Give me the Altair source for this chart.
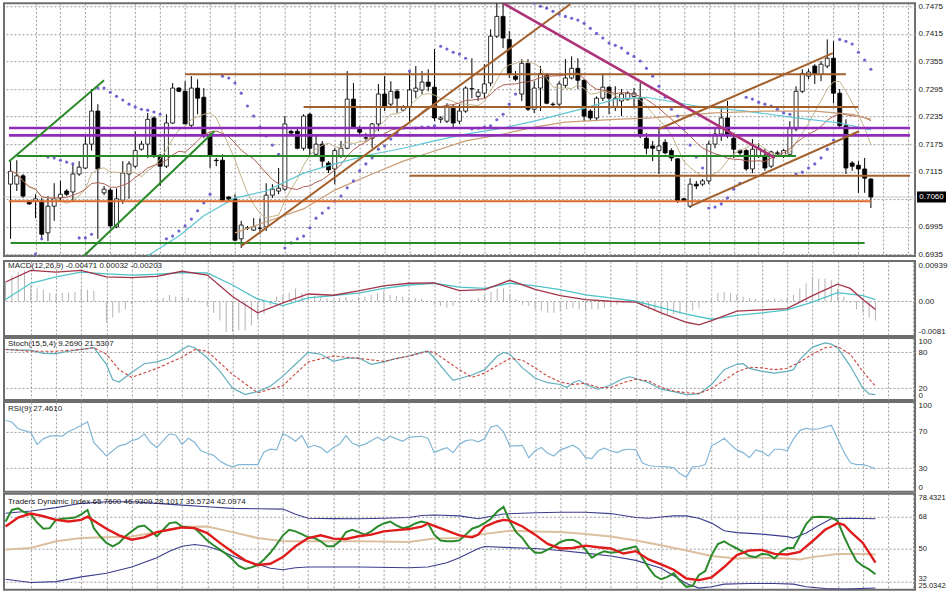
import altair as alt
import pandas as pd

# ---------------- price candles (in pips, 1e-4) ----------------
open_pips = [7088,7088,7106,7051,7051,7051,6982,7040,7058,7073,
             7071,7110,7123,7175,7247,7069,7075,6995,7053,7110,
             7127,7164,7175,7232,7151,7127,7221,7297,7290,7216,
             7297,7277,7193,7140,7140,7060,7056,6969,6992,6988,
             6992,6995,7064,7073,7077,7203,7203,7166,7240,7153,
             7175,7134,7121,7149,7166,7273,7210,7188,7188,7219,
             7284,7262,7290,7249,7256,7290,7293,7310,7299,7229,
             7225,7253,7225,7247,7295,7279,7286,7308,7410,7453,
             7403,7323,7284,7351,7251,7297,7327,7262,7262,7303,
             7319,7340,7314,7247,7232,7275,7299,7256,7269,7273,
             7279,7275,7188,7171,7161,7179,7161,7143,7056,7040,
             7088,7088,7095,7175,7197,7232,7188,7161,7161,7121,
             7149,7151,7127,7156,7149,7153,7208,7290,7323,7345,
             7327,7345,7362,7286,7215,7134,7129,7121,7099]
high_pips = [7138,7140,7110,7053,7066,7058,7062,7090,7095,7077,
             7134,7138,7197,7295,7262,7084,7079,7079,7138,7138,
             7203,7182,7243,7236,7153,7240,7308,7299,7312,7323,
             7316,7297,7199,7145,7153,7062,7066,7008,6997,7014,
             7014,7090,7088,7123,7236,7206,7208,7240,7243,7197,
             7182,7138,7166,7182,7334,7308,7215,7199,7221,7306,
             7323,7312,7295,7260,7334,7345,7334,7338,7382,7236,
             7264,7262,7262,7301,7362,7295,7349,7425,7486,7486,
             7421,7334,7360,7360,7312,7345,7329,7266,7312,7360,
             7366,7362,7316,7251,7279,7329,7301,7301,7295,7290,
             7297,7308,7199,7182,7208,7186,7166,7145,7058,7101,
             7095,7099,7182,7210,7251,7269,7197,7164,7164,7186,
             7177,7166,7161,7161,7164,7225,7301,7338,7338,7349,
             7356,7403,7399,7295,7229,7138,7138,7145,7101]
low_pips = [6969,7073,7058,7043,7014,6969,6964,7008,7051,7062,
            7051,7106,7121,7161,6969,7064,6992,6992,7045,7056,
            7123,7161,7145,7145,7084,7123,7219,7288,7219,7212,
            7240,7188,7123,7127,7051,7051,6964,6949,6988,6986,
            6979,6986,7058,7066,7073,7197,7164,7161,7149,7149,
            7123,7112,7088,7145,7164,7208,7197,7182,7166,7203,
            7247,7253,7243,7247,7225,7275,7284,7290,7225,7221,
            7221,7210,7219,7243,7275,7269,7275,7301,7406,7384,
            7319,7312,7269,7247,7243,7247,7262,7258,7253,7297,
            7316,7295,7225,7227,7225,7269,7240,7247,7236,7269,
            7253,7188,7153,7138,7110,7153,7138,7047,7049,7036,
            7077,7084,7088,7166,7182,7188,7145,7149,7117,7112,
            7145,7117,7123,7151,7145,7149,7203,7286,7316,7306,
            7312,7340,7264,7210,7110,7117,7069,7069,7036]
close_pips = [7116,7106,7062,7045,7056,6979,7040,7056,7066,7066,
              7110,7125,7175,7247,7121,7077,6997,7056,7112,7132,
              7161,7175,7229,7149,7127,7221,7297,7290,7219,7297,
              7275,7193,7149,7139,7053,7056,6966,6999,6993,6995,
              6992,7064,7077,7079,7219,7199,7166,7236,7166,7175,
              7138,7119,7161,7166,7273,7210,7201,7189,7219,7284,
              7258,7290,7275,7256,7293,7297,7310,7301,7232,7232,
              7258,7221,7247,7297,7296,7288,7306,7410,7453,7406,
              7327,7316,7351,7251,7297,7329,7264,7261,7306,7319,
              7340,7314,7236,7232,7275,7299,7275,7275,7284,7286,
              7286,7193,7166,7166,7171,7156,7145,7051,7051,7088,
              7084,7095,7175,7197,7232,7193,7164,7156,7121,7164,
              7166,7123,7158,7155,7161,7210,7290,7329,7332,7327,
              7349,7362,7286,7215,7123,7127,7121,7101,7060]

# slow moving averages (candle index, pips)
ma_cyan_i = [22, 27, 31, 36, 41, 47, 52, 58, 63, 68, 73, 79, 84, 92, 97, 102, 110, 118, 126, 133, 138]
ma_cyan_p = [6932, 6975, 7019, 7058, 7073, 7112, 7132, 7153, 7166, 7182, 7197, 7210, 7225, 7253, 7273, 7277, 7258, 7247, 7232, 7221, 7206]
ma_tan_i = [36, 41, 47, 52, 58, 63, 68, 73, 79, 84, 89, 97, 103, 113, 121, 129, 135, 138]
ma_tan_p = [6982, 7006, 7034, 7075, 7110, 7138, 7160, 7182, 7197, 7212, 7223, 7229, 7232, 7243, 7247, 7247, 7240, 7229]

# parabolic SAR dots
sar_i = [4,5,6,7,8,9,10,11,12,13,14,15,16,17,18,19,20,21,22,23,24,25,26,27,28,29,30,31,32,
         34,35,36,37,38,39,40,41,42,43,44,45,46,47,48,49,50,51,52,53,54,55,56,57,58,59,60,61,62,63,
         64,65,66,67,68,69,70,71,72,73,74,75,76,77,78,79,80,81,82,83,84,85,86,87,88,89,90,91,92,93,
         94,95,96,97,98,99,100,101,102,103,104,105,106,107,108,109,110,111,112,113,114,115,116,117,
         118,119,120,121,122,123,124,125,126,127,128,129,130,131,132,133,134,135,136,137,138]
sar_p = [6936,6969,7147,7145,7140,7136,7132,6971,6971,6979,7297,7297,7288,7279,7271,7262,7256,7251,7249,7245,7240,
         6969,6975,6986,6997,7012,7030,7047,7066,
         7323,7319,7308,7286,7258,7236,7212,7193,7173,7153,6949,6960,6969,6975,6993,7014,7025,7036,7051,7062,
         7080,7095,7117,7132,7145,7164,7171,7186,7199,7210,7334,7210,7212,7212,7215,7388,7382,7375,7371,7362,
         7208,7210,7212,7215,7228,7240,7262,7284,7486,7486,7482,7475,7471,7464,7458,7453,7449,7445,7438,7427,
         7416,7406,7395,7390,7384,7373,7366,7356,7340,7323,7301,7277,7251,7236,7208,7173,7147,7123,7036,7038,
         7045,7058,7077,7090,7277,7273,7266,7262,7258,7251,7243,7240,7110,7114,7123,7132,7145,7164,7184,7403,
         7399,7393,7375,7358,7338]

# horizontal levels: price, from index, to index, colour, width
lvl_price = [0.7327, 0.7256, 0.7210, 0.7194, 0.7149, 0.7106, 0.7051, 0.6960]
lvl_from = [28, 47, -0.25, -0.25, 1, 64, -0.25, 0]
lvl_to = [134, 136, 144.28, 144.28, 126, 144.28, 138, 137]
lvl_color = ["#a3612e", "#a3612e", "#8e2bb8", "#8e2bb8", "#2a8a2a", "#a3612e", "#df6a2a", "#2a8a2a"]
lvl_width = [2, 2, 2.6, 2.6, 2, 2, 2, 2]

# trend lines
tl_i0 = [-0.25, 11.8, 37, 79, 104, 109.1]
tl_p0 = [0.7137, 0.6932, 0.6953, 0.7482, 0.7208, 0.7040]
tl_i1 = [15, 32.7, 89.8, 122.6, 131.9, 136.1]
tl_p1 = [0.7314, 0.7203, 0.7480, 0.7145, 0.7373, 0.7203]
tl_color = ["#2a8a2a", "#2a8a2a", "#a3612e", "#ad3279", "#a3612e", "#a3612e"]
tl_width = [2, 2, 2, 2.6, 2, 2]

# ---------------- MACD ----------------
macd_i = [0,4,8,12,16,20,24,28,32,36,40,44,48,52,56,60,64,68,72,76,80,84,88,92,96,100,104,108,110,112,116,120,124,128,132,134,136,138]
macd_main = [0.0045,0.0072,0.0068,0.0072,0.0057,0.0055,0.0058,0.0070,0.0061,0.0011,-0.0027,-0.0004,0.0017,0.0014,0.0024,0.0036,0.0042,0.0043,0.0025,0.0027,0.0049,0.0028,0.0013,0.0004,0.0000,-0.0002,-0.0027,-0.0049,-0.0055,-0.0045,-0.0023,-0.0020,-0.0017,0.0013,0.0040,0.0030,0.0004,-0.0019]
macd_sig_i = list(range(0, 137, 4)) + [138]
macd_sig = [0.0004,0.0042,0.0057,0.0068,0.0064,0.0061,0.0063,0.0067,0.0066,0.0038,0.0005,-0.0010,0.0008,0.0013,0.0019,0.0030,0.0038,0.0042,0.0033,0.0030,0.0042,0.0036,0.0027,0.0015,0.0008,0.0000,-0.0015,-0.0030,-0.0042,-0.0033,-0.0027,-0.0020,-0.0002,0.0020,0.0013,0.0004]
macd_hist = [0.0045,0.0060,0.0068,0.0072,0.0038,0.0030,0.0027,0.0019,0.0017,0.0019,
             0.0020,0.0022,0.0030,0.0027,0.0024,0.0000,-0.0049,-0.0038,-0.0027,-0.0019,
             -0.0007,0.0000,-0.0003,0.0002,0.0004,0.0008,0.0015,0.0011,0.0011,0.0008,
             0.0003,-0.0003,-0.0011,-0.0027,-0.0045,-0.0072,-0.0072,-0.0068,-0.0068,-0.0057,
             -0.0042,-0.0030,-0.0010,0.0011,0.0015,0.0020,0.0030,0.0019,0.0015,0.0012,
             0.0010,0.0006,0.0004,0.0008,0.0010,0.0004,0.0008,0.0011,0.0015,0.0019,
             0.0022,0.0015,0.0012,0.0011,0.0008,0.0008,0.0006,0.0000,-0.0008,-0.0011,
             -0.0015,-0.0011,-0.0004,0.0000,0.0004,0.0008,0.0015,0.0022,0.0030,0.0030,
             0.0015,0.0004,-0.0008,-0.0011,-0.0019,-0.0022,-0.0027,-0.0027,-0.0022,-0.0019,
             -0.0015,-0.0019,-0.0022,-0.0019,-0.0019,-0.0015,-0.0011,-0.0008,-0.0004,-0.0003,
             0.0000,-0.0011,-0.0019,-0.0022,-0.0027,-0.0030,-0.0030,-0.0030,-0.0027,-0.0022,
             -0.0015,-0.0004,0.0008,0.0019,0.0022,0.0019,0.0015,0.0011,0.0008,0.0006,
             0.0004,0.0004,0.0006,0.0004,0.0008,0.0015,0.0030,0.0042,0.0057,0.0053,
             0.0053,0.0049,0.0030,0.0011,-0.0004,-0.0019,-0.0027,-0.0038,-0.0045]

# ---------------- Stochastic ----------------
stoch_i = [0,2,4,6,8,10,12,14,16,17,18,20,22,24,26,28,29,30,32,34,36,38,40,42,44,46,48,50,52,54,56,58,60,62,64,66,67,68,70,71,72,74,76,78,79,80,82,84,86,88,89,90,91,92,94,96,98,99,100,102,104,106,108,110,112,114,116,117,118,120,122,124,125,126,128,130,131,132,134,136,137,138]
stoch_main = [85,84,84,78.5,78,82,85,88,60,34,30,46,61,64,71,85,91,88,71,48.5,20,9,14,23,40,60,80,77,65,70,71,60,64,70,74,80,82,71,45,33,36,42,51,74,80,77,54,37,29,26,21,29,33,26,18,25,36,39,36,29,18,14,9,10,26,51,60,61,53,48,45,48,51,68,89,96,94,88,57,20,10,9]
stoch_sig_i = [0,4,8,12,14,16,18,20,24,28,30,32,36,40,44,48,52,56,60,64,67,68,72,74,76,78,80,82,84,86,88,90,92,94,96,98,100,102,104,106,108,110,112,114,116,118,120,122,124,126,128,130,132,134,136,138]
stoch_sig = [85,82,82,85,88,77,51,38,53,72,85,82,43,12,24,64,74,70,65,74,82,80,51,38,45,58,70,67,54,40,30,26,28,21,21,29,35,32,21,15,12,11,19,33,47,55,54,51,53,64,77,88,90,77,48,23]

# ---------------- RSI ----------------
rsi_vals = [82,80.3,73,71,69,56,62,65,65.6,65,
            70,73,76.7,80.4,58,50.7,43.3,49,54.4,56,
            60,62,67.5,58,52.5,60,67.5,66,56,62.6,
            58,49,46.3,44,37.8,34,31.5,34,34,34,
            34,47.7,50.7,50,67.5,64.2,59.4,65.6,52.5,55,
            52.5,47,52.5,56,65.6,57.4,54.4,56,60,63.7,
            60,64.8,62,59.3,63.7,64.4,64.8,62.6,47,50,
            52.5,47,56,60,61,58.8,62,75,76.7,69.3,
            54.4,54.4,55,41.5,49,52.5,46.3,43.3,50,52.5,
            55,50.7,41.5,40.4,49,51.8,49,47,50,50.7,
            50,35.9,33,32.2,31.9,31.5,30.4,24.1,20.4,31.5,
            32.2,34,54.4,58,62.6,56,50,47,41.5,50,
            47.8,43.3,50.7,50.7,49,62,71,73.7,72.2,73,
            74.8,76.7,62,47.8,35.9,34,34,32.2,29.3]

# ---------------- Traders Dynamic Index ----------------
tdi_green = [65.2,71.6,72.5,70.3,69.2,64.6,61.2,61.5,66.1,66.7,
             67,67.4,69.2,71.6,61.5,57,53.3,51.4,53.3,57,
             59.7,62.3,63,60.1,57,60.6,64.3,64.8,62.4,61.9,
             61.5,58.2,54.6,52,49.6,47.2,44.1,40.5,38.8,39.7,
             41,44.1,47.8,52.4,57.5,60.6,59.7,58.2,56.4,56,
             54.2,51.4,51.4,54.2,59.3,60.6,59.3,57.9,59.7,62.3,
             64.1,65.2,63,61.5,62.3,64.1,65.2,64.3,57.9,54.6,
             54.2,54.2,54.7,57.9,61.2,62.4,64.3,66.7,70.7,73.4,
             65.2,59.3,56,51.1,47.8,47.8,49.6,51.4,53.8,54.9,
             55.1,53.3,49.6,45.1,47.2,48.7,47.8,48.3,49.6,50.5,
             51.4,45.1,39.6,35,33.1,34.4,36.4,32.2,28.9,29.5,
             35.5,37.7,46.5,52.7,54.2,52,50.2,48.3,46,45.4,
             47.2,46.9,44.7,48.3,50.5,50.5,57,63.7,67.6,67.9,
             67.7,67.4,65.6,57,49.6,43.2,40.5,38.6,35.9]
tdi_red_i = [0,2,4,6,8,10,12,13,14,16,18,20,22,24,26,28,30,32,34,36,38,40,42,44,46,48,50,52,54,56,58,60,62,64,66,67,68,70,72,74,75,76,78,79,80,82,84,86,88,90,92,94,96,98,100,102,104,106,108,110,112,114,116,118,120,122,124,126,128,130,131,132,133,134,136,138]
tdi_red = [62.4,67.4,69.6,68.1,66.1,65.2,66.1,67.9,65.6,61.2,57.5,55.1,56.4,59.3,60.6,61.9,61.5,58.8,53.3,48.3,43.6,41,41.7,45.4,51.4,56,57.5,55.7,55.5,57,57.9,59.7,60.4,61,62.3,64.1,62.8,60.1,57.5,56.4,57.9,62.3,65.2,66.1,65.7,62.4,57.9,52.7,50.2,50.5,51.8,50.9,50.2,47.4,48.7,44.1,41.4,38.4,33.5,32.6,34.1,39.9,46.5,49.1,49.4,47.2,46.9,48.3,54.2,60.6,62.4,64.3,63.4,59.7,53.3,42.3]
tdi_base_i = [0,4,8,12,16,20,24,28,32,36,40,44,48,56,64,68,72,75,80,84,88,92,96,100,104,108,112,116,120,124,126,128,132,136,138]
tdi_base = [49.6,50.5,54.2,56,56.4,56.9,59.3,62.3,62.4,59.3,56,54.2,54.2,54.2,53.8,55.7,56,57.9,60.1,59.7,59.3,58.2,56.8,54.6,52,49.1,46,44.7,45.1,44.7,44.1,45.4,47.2,47.2,46.9]
tdi_up_i = [0,4,8,12,16,20,24,28,32,36,40,44,46,48,52,56,60,64,66,68,72,75,76,79,84,88,92,96,100,102,104,106,108,110,112,114,116,120,124,125,127,129,131,134,138]
tdi_up = [69.8,71,72.9,75.3,76.2,76.2,75.3,74.3,73.4,72.5,72.3,72.1,69.2,67,66.8,66.7,67,67.4,68.5,68.8,68.3,66.7,67.4,69.4,70.1,70.3,70.3,69.6,67.4,67,67.7,68.3,68.3,67,64.3,60.1,59,58.2,56.8,56,58.8,63,66.7,67,66.7]
tdi_lo_i = [0,4,8,12,16,20,24,26,28,30,32,34,36,38,40,42,44,46,48,56,64,67,70,72,75,76,80,84,88,92,96,100,104,106,108,110,112,114,118,122,125,127,130,133,138]
tdi_lo = [33.1,31.3,31.8,34.4,36.4,39.9,45.1,48.7,51.4,52.4,51.4,49.1,46,43.2,41.4,39.2,38.4,39.5,39.9,39.9,39.5,39.9,42.3,45.1,50.2,51.3,50.7,50.2,49.1,47.6,46,43.6,39.2,35,30.7,28.2,28.9,30.4,30.7,30.7,30.4,28.9,28,27.6,28.2]

price_ticks = [0.7475, 0.7415, 0.7355, 0.7295, 0.7235, 0.7175, 0.7115, 0.7055, 0.6995, 0.6935]
last_price = [0.7060]
title_macd = "MACD(12,26,9) -0.00471 0.00032 -0.00203"
title_stoch = "Stoch(15,5,4) 9.2690 21.5307"
title_rsi = "RSI(9) 27.4610"
title_tdi = "Traders Dynamic Index 65.7600 46.9309 28.1017 35.5724 42.0974"

# ---------------- helpers ----------------
FONT = "Liberation Sans"
W = 912
XS = alt.Scale(domain=[-0.25, 144.28], nice=False, zero=False)
GRID = "#9c9c9c"
XAX = alt.Axis(values=list(range(4, 145, 4)), labels=False, ticks=False, domain=False,
               grid=True, gridDash=[2, 2], gridColor=GRID, gridWidth=1, title=None)


def xenc(field="i"):
    return alt.X(f"{field}:Q", scale=XS, axis=XAX, title=None)


def yaxis(values, label_expr, hide=None, size=8, nudge=None):
    kw = dict(orient="right", values=values, labelExpr=label_expr, grid=True, gridDash=[2, 2],
              gridColor=GRID, gridWidth=1, domain=False, ticks=False, labelFont=FONT,
              labelFontSize=size, labelColor="#1a1a1a", labelPadding=3, title=None,
              labelFlush=True, labelOverlap=False)
    if hide:
        kw["gridOpacity"] = {"condition": {"test": hide, "value": 0}, "value": 1}
    if nudge:
        kw["labelOffset"] = {"condition": {"test": nudge, "value": -3}, "value": 0}
    return alt.Axis(**kw)


class Panel:
    def __init__(self, scale, axis):
        self.scale = scale
        self.axis = axis

    def y(self, field):
        return alt.Y(f"{field}:Q", scale=self.scale, axis=self.axis, title=None)

    def line(self, ix, vals, color, width=1.0, dash=None):
        df = pd.DataFrame({"i": ix, "v": vals})
        kw = dict(color=color, strokeWidth=width, clip=True)
        if dash:
            kw["strokeDash"] = dash
        return alt.Chart(df).mark_line(**kw).encode(x=xenc(), y=self.y("v"))


def title_layer(text, ypx):
    return alt.Chart(pd.DataFrame({"t": [text]})).mark_text(
        align="left", baseline="middle", font=FONT, fontSize=8, color="#1a1a1a"
    ).encode(x=alt.value(4), y=alt.value(ypx), text="t:N")


N = len(close_pips)
idx = list(range(N))

# ---------------- main price panel ----------------
PM = Panel(alt.Scale(domain=[0.69315, 0.74815], nice=False, zero=False),
           yaxis(price_ticks,
                 "(datum.value > 0.705 && datum.value < 0.706) ? '' : format(datum.value, '.4f')"))
cdf = pd.DataFrame({
    "i": idx,
    "o": [v / 1e4 for v in open_pips],
    "h": [v / 1e4 for v in high_pips],
    "l": [v / 1e4 for v in low_pips],
    "c": [v / 1e4 for v in close_pips],
})

priceline = alt.Chart(pd.DataFrame({"p": last_price})).mark_rule(
    color="#c8c8c8", strokeWidth=1).encode(y=PM.y("p"))
wicks = alt.Chart(cdf).mark_rule(color="black", strokeWidth=1, clip=True).encode(
    x=xenc(), y=PM.y("l"), y2="h:Q")
bodies = alt.Chart(cdf).mark_bar(size=4, stroke="black", strokeWidth=0.8, clip=True).encode(
    x=xenc(), y=PM.y("o"), y2="c:Q",
    fill=alt.condition("datum.c >= datum.o", alt.value("white"), alt.value("black")))
ma_fast = alt.Chart(cdf).transform_window(
    ma="mean(c)", frame=[-7, 0], sort=[alt.SortField("i")]
).mark_line(color="#c2b38b", strokeWidth=1, clip=True).encode(x=xenc(), y=PM.y("ma"))
ma_med = alt.Chart(cdf).transform_window(
    ma="mean(c)", frame=[-14, 0], sort=[alt.SortField("i")]
).mark_line(color="#ad5f50", strokeWidth=1, clip=True).encode(x=xenc(), y=PM.y("ma"))
ma_cyan = PM.line(ma_cyan_i, [v / 1e4 for v in ma_cyan_p], "#5ec6d4", 1.2)
ma_tan = PM.line(ma_tan_i, [v / 1e4 for v in ma_tan_p], "#c99c74", 1.2)
sar = alt.Chart(pd.DataFrame({"i": sar_i, "p": [v / 1e4 for v in sar_p]})).mark_circle(
    size=10, color="#6d64cf", opacity=1, clip=True).encode(x=xenc(), y=PM.y("p"))
levels = alt.Chart(pd.DataFrame({"p": lvl_price, "a": lvl_from, "b": lvl_to,
                                 "col": lvl_color, "w": lvl_width})).mark_rule(clip=True).encode(
    x=xenc("a"), x2="b:Q", y=PM.y("p"),
    color=alt.Color("col:N", scale=None), strokeWidth=alt.StrokeWidth("w:Q", scale=None))
trends = alt.Chart(pd.DataFrame({"a": tl_i0, "pa": tl_p0, "b": tl_i1, "pb": tl_p1,
                                 "col": tl_color, "w": tl_width})).mark_rule(clip=True).encode(
    x=xenc("a"), x2="b:Q", y=PM.y("pa"), y2="pb:Q",
    color=alt.Color("col:N", scale=None), strokeWidth=alt.StrokeWidth("w:Q", scale=None))
box_df = pd.DataFrame({"p": last_price, "t": [f"{last_price[0]:.4f}"]})
pbox = alt.Chart(box_df).transform_calculate(
    lo="datum.p - 0.0012", hi="datum.p + 0.0012").mark_rect(color="black").encode(
    x=alt.value(914), x2=alt.value(943), y=PM.y("lo"), y2="hi:Q")
ptext = alt.Chart(box_df).mark_text(color="white", font=FONT, fontSize=8, align="center",
                                    baseline="middle").encode(
    x=alt.value(928.5), y=PM.y("p"), text="t:N")

main = alt.layer(priceline, wicks, bodies, ma_fast, ma_med, ma_cyan, ma_tan, sar,
                 levels, trends, pbox, ptext).properties(width=W, height=253)

# ---------------- MACD panel ----------------
PMACD = Panel(alt.Scale(domain=[-0.0081, 0.00939], nice=False, zero=False),
              yaxis([0.00939, 0.0, -0.0081],
                    "datum.value > 0.001 ? '0.00939' : (datum.value < -0.001 ? '-0.0081' : '0.00')",
                    hide="datum.value != 0"))
hist = alt.Chart(pd.DataFrame({"i": idx, "v": macd_hist})).mark_rule(
    color="#b4b4b4", strokeWidth=1).encode(x=xenc(), y=PMACD.y("v"), y2=alt.datum(0))
macd = alt.layer(
    hist,
    PMACD.line(macd_sig_i, macd_sig, "#4fc2c9", 1.3),
    PMACD.line(macd_i, macd_main, "#a3354a", 1.3),
    title_layer(title_macd, 5),
).properties(width=W, height=75)

# ---------------- Stochastic panel ----------------
PST = Panel(alt.Scale(domain=[0, 104.4], nice=False, zero=False),
            yaxis([104.4, 80, 20, 0], "datum.value > 100 ? '100' : format(datum.value, 'd')",
                  hide="datum.value > 100 || datum.value == 0"))
stoch = alt.layer(
    PST.line(stoch_i, stoch_main, "#62aebd", 1.2),
    PST.line(stoch_sig_i, stoch_sig, "#c8473f", 1.1, dash=[3, 2]),
    title_layer(title_stoch, 6),
).properties(width=W, height=62)

# ---------------- RSI panel ----------------
PRSI = Panel(alt.Scale(domain=[4.4, 102.2], nice=False, zero=False),
             yaxis([102.2, 70, 30, 4.4],
                   "datum.value > 100 ? '100' : (datum.value < 5 ? '0' : format(datum.value, 'd'))",
                   hide="datum.value > 100 || datum.value < 5"))
rsi = alt.layer(PRSI.line(idx, rsi_vals, "#84b7d6", 1.2),
                title_layer(title_rsi, 7)).properties(width=W, height=90)

# ---------------- TDI panel ----------------
PTDI = Panel(alt.Scale(domain=[27.3, 80.6], nice=False, zero=False),
             yaxis([80.6, 68, 50, 32, 27.3],
                   "datum.value > 75 ? '78.4321' : (datum.value < 30 ? '25.0342' : format(datum.value, 'd'))",
                   hide="datum.value > 75 || datum.value < 30", size=7.5,
                   nudge="datum.value == 32"))
tdi = alt.layer(
    PTDI.line(tdi_up_i, tdi_up, "#3d3d8f", 1.1),
    PTDI.line(tdi_lo_i, tdi_lo, "#3d3d8f", 1.1),
    PTDI.line(tdi_base_i, tdi_base, "#dcbf9e", 2.0),
    PTDI.line(idx, tdi_green, "#2b8a2b", 2.0),
    PTDI.line(tdi_red_i, tdi_red, "#e01b1b", 2.4),
    title_layer(title_tdi, 8),
).properties(width=W, height=96)

chart = alt.vconcat(main, macd, stoch, rsi, tdi, spacing=0).properties(
    padding={"left": 2, "top": 0, "right": 0, "bottom": 0},
    background="white",
).configure_view(stroke="#6e6e6e", strokeWidth=2, fill="white")

chart.save("out.html", embed_options={"renderer": "svg", "actions": False})
